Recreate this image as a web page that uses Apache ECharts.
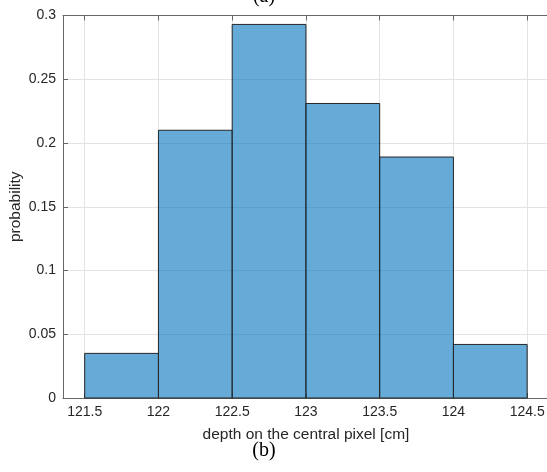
<!DOCTYPE html>
<html>
<head>
<meta charset="utf-8">
<script src="https://cdn.jsdelivr.net/npm/echarts@6/dist/echarts.min.js"></script>
<style>html,body{margin:0;padding:0;background:#fff;}#chart{width:547px;height:472px;}</style>
</head>
<body>
<div id="chart"></div>
<script>
// Histogram bin edges and probabilities
const binEdges = [121.5, 122, 122.5, 123, 123.5, 124, 124.5];
const probabilities = [0.035, 0.210, 0.293, 0.231, 0.189, 0.042];
const xTickValues = [121.5, 122, 122.5, 123, 123.5, 124, 124.5];
const yTickValues = [0, 0.05, 0.1, 0.15, 0.2, 0.25, 0.3];
const xAxisTitle = 'depth on the central pixel [cm]';
const yAxisTitle = 'probability';
const topCaption = '(a)';
const bottomCaption = '(b)';

const binData = probabilities.map((p, i) => [binEdges[i], binEdges[i + 1], p]);

const textColor = '#262626';
const axisColor = '#666666';
const gridColor = '#e3e3e3';
const tickFont = 14;
const sansFont = 'Liberation Sans, Arial, sans-serif';

const chart = echarts.init(document.getElementById('chart'), null, {renderer: 'canvas'});
chart.setOption({
  backgroundColor: '#ffffff',
  animation: false,
  grid: {left: 63, right: -2, top: 15.5, bottom: 74, containLabel: false, outerBoundsMode: 'none'},
  xAxis: [{
    type: 'value',
    position: 'bottom',
    min: 121.353,
    max: 124.648,
    name: xAxisTitle,
    nameLocation: 'middle',
    nameGap: 29,
    nameTextStyle: {color: textColor, fontFamily: sansFont, fontSize: 15.5},
    axisLine: {show: true, lineStyle: {color: axisColor, width: 1}},
    axisTick: {show: true, inside: true, length: 5, customValues: xTickValues, lineStyle: {color: axisColor}},
    axisLabel: {show: true, customValues: xTickValues, margin: 7, color: textColor, fontFamily: sansFont, fontSize: tickFont,
      formatter: v => String(v)},
    splitLine: {show: true, lineStyle: {color: gridColor, width: 1}}
  }, {
    type: 'value',
    position: 'top',
    min: 121.353,
    max: 124.648,
    axisLine: {show: true, lineStyle: {color: axisColor, width: 1}},
    axisTick: {show: true, inside: true, length: 5, customValues: xTickValues, lineStyle: {color: axisColor}},
    axisLabel: {show: false},
    splitLine: {show: false}
  }],
  yAxis: [{
    type: 'value',
    min: yTickValues[0],
    max: yTickValues[yTickValues.length - 1],
    interval: 0.05,
    name: yAxisTitle,
    nameLocation: 'middle',
    nameGap: 39,
    nameMoveOverlap: false,
    nameRotate: 90,
    nameTextStyle: {color: textColor, fontFamily: sansFont, fontSize: 15.5},
    axisLine: {show: true, lineStyle: {color: axisColor, width: 1}},
    axisTick: {show: true, inside: true, length: 5, lineStyle: {color: axisColor}},
    axisLabel: {show: true, margin: 7, color: textColor, fontFamily: sansFont, fontSize: tickFont,
      formatter: v => String(+v.toFixed(2))},
    splitLine: {show: true, lineStyle: {color: gridColor, width: 1}}
  }],
  graphic: [
    {type: 'text', style: {text: topCaption, x: 264, y: -3.5, textAlign: 'center', textVerticalAlign: 'middle',
      font: '20px "Liberation Serif", "Times New Roman", serif', fill: '#000'}},
    {type: 'text', style: {text: bottomCaption, x: 264, y: 450.5, textAlign: 'center', textVerticalAlign: 'middle',
      font: '20px "Liberation Serif", "Times New Roman", serif', fill: '#000'}}
  ],
  series: [{
    type: 'custom',
    xAxisIndex: 0,
    yAxisIndex: 0,
    encode: {x: [0, 1], y: 2},
    data: binData,
    renderItem: function (params, api) {
      const p0 = api.coord([api.value(0), 0]);
      const p1 = api.coord([api.value(1), api.value(2)]);
      return {
        type: 'rect',
        shape: {x: p0[0], y: p1[1], width: p1[0] - p0[0], height: p0[1] - p1[1]},
        style: {fill: 'rgba(0,114,189,0.6)', stroke: '#262626', lineWidth: 1}
      };
    }
  }]
});
</script>
</body>
</html>
